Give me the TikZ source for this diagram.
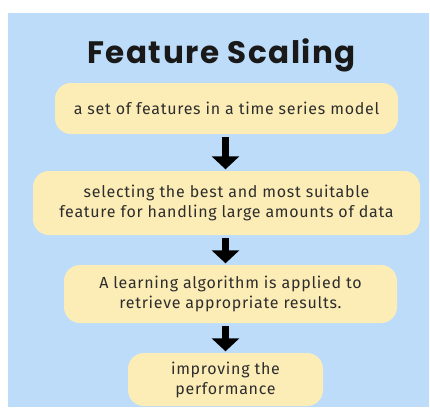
\documentclass[tikz,border=0pt]{standalone}
\usepackage{fontspec}
\setmainfont{Fira Sans}[LetterSpace=4.5]
\newfontfamily\titlefont{Poppins}[LetterSpace=5]
\usetikzlibrary{arrows.meta,positioning}
\definecolor{sky}{RGB}{189,220,250}
\definecolor{cream}{RGB}{252,237,183}
\definecolor{ink}{RGB}{45,45,45}
\tikzset{
  box/.style={fill=cream,rounded corners=16pt,align=center,text=ink,inner sep=0pt,
    font=\fontsize{16}{20}\selectfont},
  flow/.style={-{Triangle[width=27pt,length=13pt]},line width=7pt,draw=black,
    shorten <=3pt,shorten >=1.5pt},
  heading/.style={font=\titlefont\bfseries\fontsize{31}{34}\selectfont,text=black!90,anchor=base},
}
\begin{document}
\begin{tikzpicture}[x=1pt,y=-1pt]
  \useasboundingbox (0,0) rectangle (430,416);
  \fill[sky] (8,13) rectangle (429,407);
  \node[heading] (title) at (221.5,63) {Feature Scaling};
  % the four steps
  \node[box,minimum width=343pt,minimum height=51pt] (feat) at (226.5,108.5)
    {a set of features in a time series model};
  \node[box,minimum width=387pt,minimum height=64pt] (sel) at (226.5,203)
    {selecting the best and most suitable\\feature for handling large amounts of data};
  \node[box,minimum width=333pt,minimum height=58pt] (learn) at (230.5,294)
    {A learning algorithm is applied to\\retrieve appropriate results.};
  \node[box,minimum width=195pt,minimum height=53pt] (perf) at (225.5,379.5)
    {improving the\\performance};
  \draw[flow] (feat.south -| perf.north) -- (sel.north -| perf.north);
  \draw[flow] (sel.south -| perf.north) -- (learn.north -| perf.north);
  \draw[flow] (learn.south -| perf.north) -- (perf.north);
\end{tikzpicture}
\end{document}
